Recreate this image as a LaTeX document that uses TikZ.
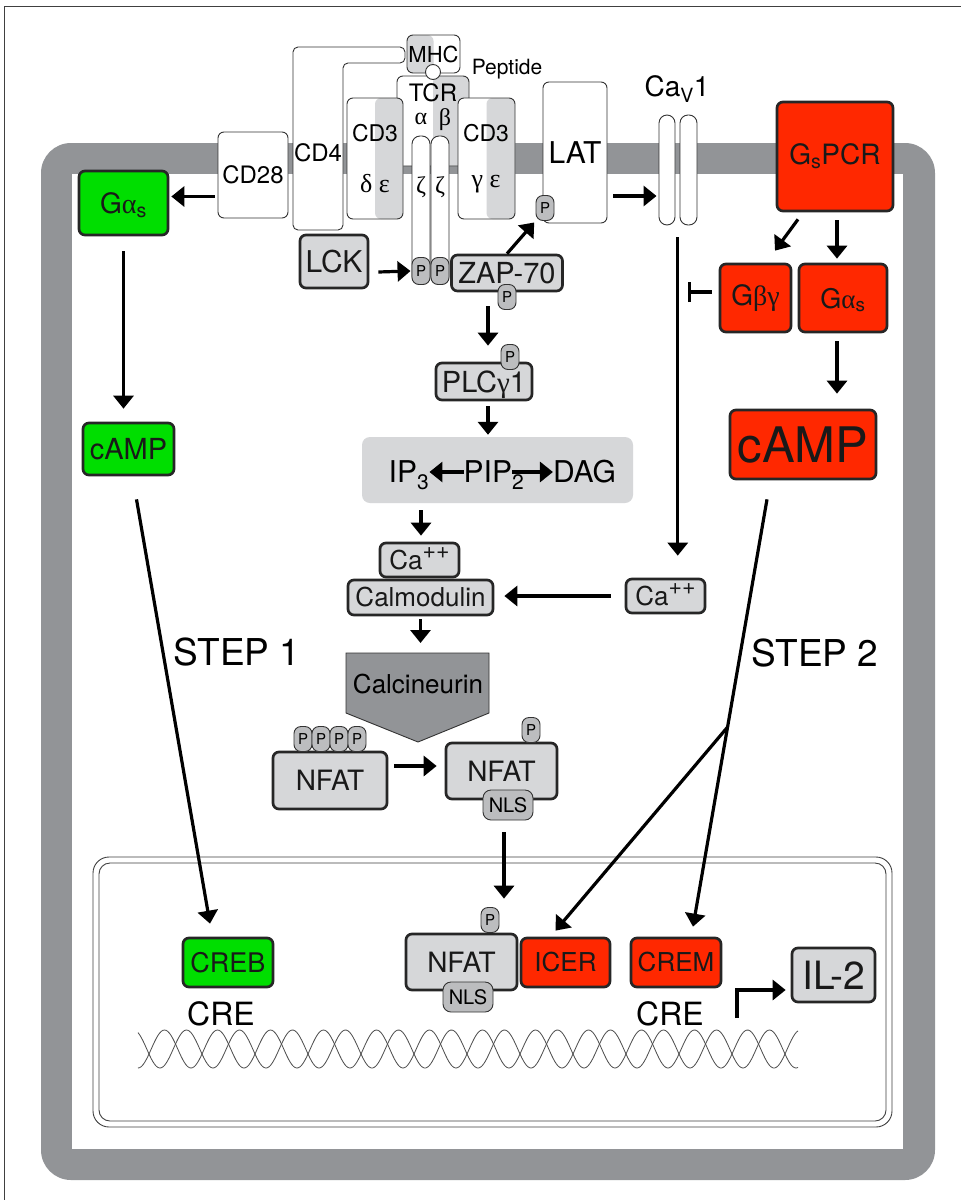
\documentclass[tikz,border=0pt]{standalone}
\usepackage{fontspec}
\setmainfont{TeX Gyre Heros}
\newfontfamily\grk{Liberation Serif}
\usepackage{tikz}
\usetikzlibrary{arrows.meta,calc}
\definecolor{mgray}{RGB}{146,148,151}
\definecolor{lgray}{RGB}{214,215,217}
\definecolor{pgray}{RGB}{188,189,191}
\definecolor{gred}{RGB}{255,40,0}
\definecolor{ggreen}{RGB}{0,222,0}
\newcommand\fsz[1]{\fontsize{#1}{#1}\selectfont}
\newcommand\capp{Ca\raisebox{0.4em}{\fsz{23}++}}

\begin{document}
\begin{tikzpicture}[x=1pt,y=-1pt,>={Triangle[length=13pt,width=20pt]},
	memb/.style={draw=black!80,line width=0.9pt,rounded corners=6pt,fill=white,inner sep=0pt},
	mol/.style={draw=black!85,line width=2.7pt,rounded corners=6pt,fill=lgray,inner sep=0pt,text=black!90},
	redmol/.style={mol,fill=gred},
	greenmol/.style={mol,fill=ggreen},
	phos/.style={draw=black!80,line width=0.9pt,rounded corners=7pt,fill=pgray,minimum width=18pt,minimum height=25pt,inner sep=0pt,font=\fsz{15}},
	nls/.style={phos,rounded corners=8pt,minimum width=50pt,minimum height=30pt,font=\fsz{20}},
	rgray/.style={path picture={\fill[lgray](path picture bounding box.north)rectangle(path picture bounding box.south east);}},
	lgrayhalf/.style={path picture={\fill[lgray](path picture bounding box.north west)rectangle(path picture bounding box.south);}},
	arr/.style={->,line width=3.2pt}]
	\useasboundingbox(0,0)rectangle(961,1200);
	\draw[black!75,line width=0.8pt](4,1200)--(4,6)--(961,6);
	\fill[mgray,rounded corners=30pt](41,143)rectangle(935,1180);
	\fill[white](72,174)rectangle(903,1149);
	\draw[black!75,line width=0.9pt,rounded corners=16pt](93,857)rectangle(892,1127);
	\draw[black!75,line width=0.9pt,rounded corners=11pt](99,863)rectangle(886,1121);
	\node[memb,minimum width=70pt,minimum height=86pt,font=\fsz{24}](cd28)at(253,175){CD28};
	\draw[black!80,line width=0.9pt,fill=white,rounded corners=5pt](293,47)--(405,47)--(405,63)--(343,63)--(343,230)--(293,230)--cycle;
	\node[font=\fsz{24},inner sep=0pt](cd4)at(318,153){CD4};
	\node[memb,lgrayhalf,minimum width=53pt,minimum height=38pt,font=\fsz{22}](mhc)at(433.5,54){MHC};
	\node[memb,rgray,minimum width=72pt,minimum height=90pt](tcr)at(433,121){};
	\node[circle,draw=black!80,line width=0.9pt,fill=white,minimum size=15pt,inner sep=0pt](pep)at(433,72){};
	\node[font=\fsz{21}](peplbl)at(507,69){Peptide};
	\node[font=\fsz{24}](tcrlbl)at(433,93){TCR};
	\node[font=\grk\fsz{24}](alpha)at(421,119){α};
	\node[font=\grk\fsz{24}](beta)at(445,120){β};
	\node[memb,rgray,minimum width=56pt,minimum height=121pt](cd3a)at(375,158.5){};
	\node[memb,rgray,minimum width=57pt,minimum height=121pt](cd3b)at(486.5,158.5){};
	\node[font=\fsz{23}](cd3atxt)at(375,133){CD3};
	\node[font=\grk\fsz{26}](cd3asub)at(375,184){δ ε};
	\node[font=\fsz{23}](cd3btxt)at(486,133){CD3};
	\node[font=\grk\fsz{26}](cd3bsub)at(486,184){γ ε};
	\node[memb,rounded corners=8pt,minimum width=18pt,minimum height=148pt](zeta1)at(421,210){};
	\node[memb,rounded corners=8pt,minimum width=18pt,minimum height=148pt](zeta2)at(440,210){};
	\node[font=\grk\fsz{24}](z1)at(421,187){ζ};
	\node[font=\grk\fsz{24}](z2)at(440,187){ζ};
	\node[phos,minimum height=27pt](pz1)at(421,271){P};
	\node[phos,minimum height=27pt](pz2)at(440,271){P};
	\node[memb,minimum width=64pt,minimum height=141pt,font=\fsz{30}](lat)at(575,152.5){LAT};
	\node[phos](plat)at(545,208){P};
	\node[memb,rounded corners=8pt,minimum width=16pt,minimum height=110pt](cva)at(667,170){};
	\node[memb,rounded corners=8pt,minimum width=17pt,minimum height=110pt](cvb)at(688.5,170){};
	\node[font=\fsz{28}](cavlbl)at(677,89){Ca\textsubscript{V}1};
	\node[redmol,minimum width=116pt,minimum height=109pt,font=\fsz{28}](gpcr)at(835,156.5){G\textsubscript{s}PCR};
	\node[mol,minimum width=68pt,minimum height=53pt,font=\fsz{30}](lck)at(334,261.5){LCK};
	\node[mol,minimum width=111pt,minimum height=36pt,font=\fsz{29}](zap)at(507,273){ZAP-70};
	\node[phos](pzap)at(507,297){P};
	\node[mol,minimum width=96pt,minimum height=37pt,font=\fsz{29},text depth=0pt](plc)at(484,381.5){PLC{\grk γ}1};
	\node[phos](pplc)at(510,357){P};
	\node[fill=lgray,rounded corners=8pt,minimum width=271pt,minimum height=66pt](pbox)at(497.5,470){};
	\node[font=\fsz{30},inner sep=0pt,text depth=0pt](ip3)at(409,472){IP\textsubscript{3}};
	\node[font=\fsz{30},inner sep=0pt,text depth=0pt](pip2)at(494,472){PIP\textsubscript{2}};
	\node[font=\fsz{30},inner sep=0pt](dag)at(584.5,472){DAG};
	\node[mol,minimum width=79pt,minimum height=34pt,font=\fsz{26},text height=18.7pt](cal)at(419.5,560){\capp};
	\node[mol,minimum width=145pt,minimum height=35pt,font=\fsz{26}](calm)at(420.5,597.5){Calmodulin};
	\node[mol,minimum width=79pt,minimum height=34pt,font=\fsz{26},text height=18.7pt](car)at(665.5,596){\capp};
	\filldraw[fill=mgray,draw=black!80,line width=0.9pt](346,653)--(489,653)--(489,713)--(418,742)--(346,713)--cycle;
	\node[font=\fsz{26},inner sep=0pt](cn)at(418,684){Calcineurin};
	\coordinate(cntop)at(418,653);
	\node[mol,minimum width=114pt,minimum height=57pt,font=\fsz{28}](nfat1)at(330,780.5){NFAT};
	\foreach \i/\x in {1/303,2/321,3/339,4/357}\node[phos](pn\i)at(\x,739){P};
	\node[mol,minimum width=111pt,minimum height=56pt,font=\fsz{28}](nfat2)at(501.5,771){NFAT};
	\node[phos](pn5)at(531,730){P};
	\node[nls](nls1)at(508,805){NLS};
	\node[mol,minimum width=111pt,minimum height=56pt,font=\fsz{28}](nfat3)at(461.5,962){NFAT};
	\node[phos](pn6)at(490,920){P};
	\node[nls](nls2)at(468,997){NLS};
	\node[redmol,minimum width=89pt,minimum height=49pt,font=\fsz{26}](icer)at(565.5,962.5){ICER};
	\node[redmol,minimum width=90pt,minimum height=49pt,font=\fsz{26}](crem)at(676,962.5){CREM};
	\node[greenmol,minimum width=90pt,minimum height=49pt,font=\fsz{27}](creb)at(228,962.5){CREB};
	\node[mol,minimum width=83pt,minimum height=54pt,font=\fsz{39}](il2)at(833.5,975){IL-2};
	\node[font=\fsz{32},inner sep=0pt](cre1)at(221,1014){CRE};
	\node[font=\fsz{32},inner sep=0pt](cre2)at(670,1014){CRE};
	\node[greenmol,minimum width=89pt,minimum height=64pt,font=\fsz{28},text depth=0pt](ggas)at(123.5,203){G{\grk α}\textsubscript{s}};
	\node[greenmol,minimum width=91pt,minimum height=52pt,font=\fsz{29}](gcamp)at(128.5,449){cAMP};
	\node[redmol,minimum width=71pt,minimum height=68pt,font=\fsz{28}](gbg)at(755.5,298){G{\grk βγ}};
	\node[redmol,minimum width=88pt,minimum height=68pt,font=\fsz{27},text depth=0pt](gas)at(843,298){G{\grk α}\textsubscript{s}};
	\node[redmol,minimum width=146pt,minimum height=69pt,font=\fsz{49}](camp)at(803,444.5){cAMP};
	\node[font=\fsz{37},inner sep=0pt](step1)at(237,652){STEP 1};
	\node[font=\fsz{37},inner sep=0pt](step2)at(815,653.5){STEP 2};
	\draw[black!70,line width=0.8pt]plot[domain=138:798,samples=400](\x,{1049+19*cos(((\x-138)/53)*360)});
	\draw[black!70,line width=0.8pt]plot[domain=138:798,samples=400](\x,{1049+19*cos(((\x-160)/53)*360)});
	\draw[arr]([xshift=-3pt,yshift=-21.5pt]cd28.west)--([xshift=2pt,yshift=6.5pt]ggas.east);
	\draw[arr,shorten <=15pt,shorten >=13pt](ggas.south)--(ggas.south|-gcamp.north);
	\draw[arr]([xshift=9pt,yshift=-10.5pt]lck.east)--([xshift=-1pt]pz1.west);
	\draw[arr,shorten >=2pt](zap.north)--(plat.south west);
	\draw[arr]([xshift=6pt,yshift=-43.5pt]lat.east)--([xshift=-2pt,yshift=-26pt]cva.west);
	\draw[arr]([xshift=-37pt,yshift=-7pt]gpcr.south)--([xshift=19.5pt,yshift=12pt]gbg.north);
	\draw[arr]([xshift=2pt,yshift=-8pt]gpcr.south)--([xshift=-6pt,yshift=4pt]gas.north);
	\draw[arr,shorten <=8pt,shorten >=15pt]([xshift=-6pt]gas.south)--([xshift=34pt]camp.north);
	\coordinate(blk)at(688,292);
	\draw[-{Bar[width=20pt]},line width=3.2pt]([xshift=-7pt,yshift=6pt]gbg.west)--(blk);
	\coordinate(cavbot)at($(cva.south)!.5!(cvb.south)$);
	\draw[arr,shorten <=12pt,shorten >=22pt](cavbot)--(cavbot|-car.north);
	\draw[arr,shorten <=14pt,shorten >=10pt](car.west)--(car.west-|calm.east);
	\draw[arr]([xshift=-19pt,yshift=-14pt]zap.south)--([xshift=4pt,yshift=16pt]plc.north);
	\draw[arr]([xshift=4pt,yshift=-5pt]plc.south)--([xshift=-9.5pt,yshift=2pt]pbox.north);
	\draw[arr](pip2.west)--(ip3.east);
	\draw[arr]([xshift=-12pt]pip2.east)--(dag.west);
	\draw[arr]([xshift=-76.5pt,yshift=-7pt]pbox.south)--([xshift=1.5pt,yshift=6pt]cal.north);
	\draw[arr,shorten <=3pt,shorten >=10pt](calm.south)--(calm.south|-cntop);
	\draw[arr,shorten <=6pt,shorten >=8pt]([yshift=14.5pt]nfat1.east)--([yshift=5pt]nfat2.west);
	\draw[arr]([xshift=-4pt,yshift=-12pt]nls1.south)--([xshift=42.5pt,yshift=34pt]nfat3.north);
	\coordinate(s2a)at([xshift=-36pt,yshift=-19pt]camp.south);
	\coordinate(s2b)at([xshift=17pt,yshift=10pt]crem.north);
	\draw[arr](s2a)--(s2b);
	\coordinate(split)at($(s2a)!.533!(s2b)$);
	\draw[arr](split)--([xshift=-10pt,yshift=6pt]icer.north);
	\draw[arr]([xshift=8pt,yshift=-23pt]gcamp.south)--([xshift=-18pt,yshift=13pt]creb.north);
	\coordinate(tss)at(737,1018);
	\draw[arr,shorten >=5pt](tss)|-([yshift=-15pt]il2.west);
\end{tikzpicture}
\end{document}
